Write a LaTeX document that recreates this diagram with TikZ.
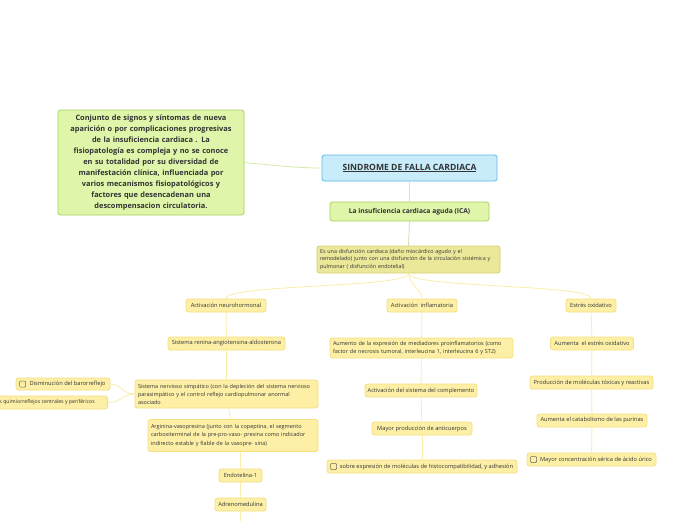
\documentclass[tikz,border=0pt]{standalone}
\usepackage{fontspec}
\setmainfont{Open Sans}
\definecolor{yfill}{HTML}{FDF0A6}
\definecolor{ydraw}{HTML}{F3DE80}
\definecolor{yline}{HTML}{FAEDAA}
\definecolor{kfill}{HTML}{ECE89A}
\definecolor{kdraw}{HTML}{D6D070}
\definecolor{gfill}{HTML}{DEF5AA}
\definecolor{gdraw}{HTML}{A8D060}
\definecolor{gline}{HTML}{D4EBA8}
\definecolor{bfill}{HTML}{C8ECFA}
\definecolor{bdraw}{HTML}{5AB9E6}
\definecolor{tline}{HTML}{DCD6A8}
\definecolor{txt}{HTML}{333333}
\begin{document}
\begin{tikzpicture}[x=1pt,y=-1pt,
  base/.style={rounded corners=2.5pt, line width=0.8pt, text=txt, inner sep=0pt, align=center},
  gnode/.style={base, fill=gfill, draw=gdraw},
  bnode/.style={base, fill=bfill, draw=bdraw},
  knode/.style={base, fill=kfill, draw=kdraw},
  ynode/.style={base, fill=yfill, draw=ydraw, font=\fontsize{5.7}{8}\selectfont, minimum height=13pt},
  yl/.style={draw=yline, line width=0.8pt},
  gl/.style={draw=gline, line width=0.8pt},
  tl/.style={draw=tline, line width=0.8pt},
  cb/.style={draw=black!60, line width=0.5pt, rounded corners=0.8pt}
]
\useasboundingbox (0,0) rectangle (696,520);

% nodes
\node[gnode, minimum width=186pt, minimum height=105pt, font=\bfseries\fontsize{7.4}{11}\selectfont, text width=180pt] (def) at (151,162.5)
 {Conjunto de signos y síntomas de nueva\\aparición o por complicaciones progresivas\\de la insuficiencia cardiaca . La\\fisiopatología es compleja y no se conoce\\en su totalidad por su diversidad de\\manifestación clínica, influenciada por\\varios mecanismos fisiopatológicos y\\factores que desencadenan una\\descompensacion circulatoria.};

\node[bnode, minimum width=175pt, minimum height=26pt, font=\bfseries\fontsize{8.6}{10}\selectfont] (sfc) at (409.5,168) {\underline{SINDROME DE FALLA CARDIACA}};

\node[gnode, minimum width=159pt, minimum height=19pt, font=\bfseries\fontsize{6.7}{8}\selectfont] (ica) at (409.5,211.5) {La insuficiencia cardiaca aguda (ICA)};

\node[knode, minimum width=183pt, minimum height=27pt, font=\fontsize{5.4}{7.6}\selectfont, text width=177pt, align=left] (dis) at (408.5,259.5)
 {Es una disfunción cardiaca (daño miocárdico agudo y el\\remodelado) junto con una disfunción de la circulación sistémica y\\pulmonar ( disfunción endotelial)};

\node[ynode, minimum width=80pt] (neu) at (226,305.5) {Activación neurohormonal};
\node[ynode, minimum width=70pt] (inf) at (422,305.5) {Activación \ inflamatoria};
\node[ynode, minimum width=50pt] (est) at (591,305.5) {Estrés oxidativo};

% left column
\node[ynode, minimum width=117pt] (raa) at (226.5,343.5) {Sistema renina-angiotensina-aldosterona};
\node[ynode, minimum width=183pt, minimum height=28pt, text width=177pt, align=left, font=\fontsize{5.5}{8}\selectfont] (sns) at (226.5,394)
 {Sistema nervioso simpático (con la depleción del sistema nervioso\\parasimpático y el control reflejo cardiopulmonar anormal\\asociado};
\node[ynode, minimum width=94pt, minimum height=12pt] (bar) at (63,384) {\hspace{9pt}Disminución del barorreflejo};
\node[ynode, minimum width=118pt, minimum height=13pt, anchor=east, font=\fontsize{5.2}{7}\selectfont] (qui) at (108,402.5) {s quimiorreflejos centrales y periféricos\hspace{3pt}};
\node[ynode, minimum width=170pt, minimum height=32pt, text width=164pt, align=left, font=\fontsize{5.5}{8.3}\selectfont] (arg) at (233,435.5)
 {Arginina-vasopresina (junto con la copeptina, el segmento\\carboxiterminal de la pre-pro-vaso- presina como indicador\\indirecto estable y fiable de la vasopre- sina)};
\node[ynode, minimum width=43pt] (end) at (240.5,475.5) {Endotelina-1};
\node[ynode, minimum width=51pt] (adr) at (240.5,504.5) {Adrenomedulina};
\coordinate (bot) at (240.5,521);

% middle column
\node[ynode, minimum width=183pt, minimum height=20pt, text width=177pt, align=left, font=\fontsize{5.5}{8}\selectfont] (aum) at (421.5,348)
 {Aumento de la expresión de mediadores proinflamatorios (como\\factor de necrosis tumoral, interleucina 1, interleucina 6 y ST2)};
\node[ynode, minimum width=112pt] (com) at (421,390.5) {Activación del sistema del complemento};
\node[ynode, minimum width=100pt] (ant) at (422,428.5) {Mayor producción de anticuerpos};
\node[ynode, minimum width=190pt] (sob) at (422,466.5) {\hspace{9pt}sobre expresión de moléculas de histocompatibilidad, y adhesión};

% right column
\node[ynode, minimum width=83pt] (aeo) at (592,343.5) {Aumenta \ el estrés oxidativo};
\node[ynode, minimum width=123pt] (pmt) at (591.5,382.5) {Producción de moléculas tóxicas y reactivas};
\node[ynode, minimum width=110pt] (cat) at (592,420.5) {Aumenta el catabolismo de las purinas};
\node[ynode, minimum width=129pt] (uri) at (591.5,459.5) {\hspace{9pt}Mayor concentración sérica de ácido úrico};

% checkboxes
\draw[cb] ([xshift=4pt,yshift=3pt]bar.west) rectangle ++(6,6);
\draw[cb] ([xshift=4pt,yshift=3pt]sob.west) rectangle ++(6,6);
\draw[cb] ([xshift=4pt,yshift=3pt]uri.west) rectangle ++(6,6);

% connectors
\draw[gl] (def.east) .. controls (280,166) and (300,168) .. (sfc.west);
\draw[gl] (sfc.south) -- (ica.north);
\draw[tl] (ica.south) -- (dis.north);
\draw[yl] (dis.south) .. controls (409,288) and (226,284) .. (neu.north);
\draw[yl] (dis.south) .. controls (409,284) and (422,290) .. (inf.north);
\draw[yl] (dis.south) .. controls (409,288) and (591,284) .. (est.north);
\draw[yl] (neu) -- (raa);
\draw[yl] (raa) -- (sns);
\draw[yl] (sns) -- (arg);
\draw[yl] (arg.south -| end.north) -- (end);
\draw[yl] (end) -- (adr);
\draw[yl] (adr) -- (bot);
\draw[yl] (sns.west) .. controls (122,394) and (122,384) .. (bar.east);
\draw[yl] (sns.west) .. controls (122,394) and (122,402.5) .. (qui.east);
\draw[yl] (inf) -- (aum);
\draw[yl] (aum) -- (com);
\draw[yl] (com) -- (ant);
\draw[yl] (ant) -- (sob);
\draw[yl] (est) -- (aeo);
\draw[yl] (aeo) -- (pmt);
\draw[yl] (pmt) -- (cat);
\draw[yl] (cat) -- (uri);
\end{tikzpicture}
\end{document}
